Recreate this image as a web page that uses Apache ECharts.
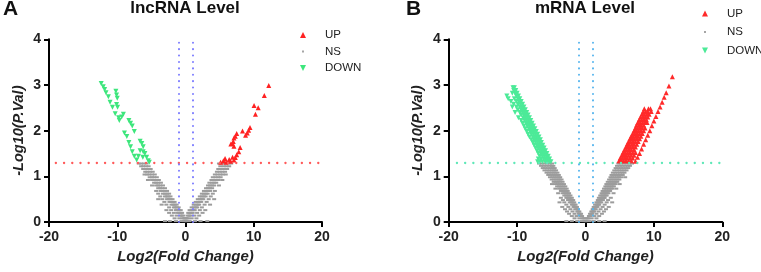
<!DOCTYPE html>
<html>
<head>
<meta charset="utf-8">
<script src="https://cdn.jsdelivr.net/npm/echarts@6/dist/echarts.min.js"></script>
<style>
  body { margin: 0; background: #fff; }
  #main { width: 761px; height: 272px; }
</style>
</head>
<body>
<div id="main"></div>
<script>
// cut-offs
var pCut = 1.3;     // -log10(0.05)
var fcCut = 1;
var hLineA = [-19, 19.7];
var hLineB = [-18.8, 20];

// panel A (lncRNA) : [log2FC, -log10 p]
var upA = [[12.2,2.99],[11.55,2.77],[10.05,2.55],[10.65,2.5],[10.25,2.36],[9.45,2.07],[9.25,2.01],[9.05,1.95],
  [8.8,1.9],[8.35,1.99],[7.5,1.94],[7.3,1.88],[7.1,1.84],[7.0,1.76],[6.85,1.72],[6.65,1.71],[7.1,1.66],[8.0,1.63],
  [7.8,1.54],[7.5,1.47],[7.3,1.41],[7.1,1.36],[6.4,1.37],[5.8,1.39],[5.55,1.34],[5.15,1.31],[5.95,1.31],[6.6,1.33],[6.9,1.42]];
var downA = [[-12.35,3.03],[-12.05,2.96],[-11.85,2.9],[-11.65,2.83],[-11.3,2.74],[-11.05,2.62],[-10.7,2.51],[-10.2,2.86],
  [-10.1,2.78],[-10.0,2.71],[-10.1,2.57],[-9.95,2.51],[-10.3,2.37],[-9.8,2.28],[-9.7,2.22],[-9.1,2.36],[-9.35,2.3],
  [-8.3,2.22],[-8.05,2.16],[-7.8,2.1],[-7.5,1.98],[-8.95,1.95],[-8.6,1.87],[-8.3,1.74],[-8.05,1.65],[-7.8,1.54],
  [-7.5,1.44],[-7.15,1.36],[-6.65,1.77],[-6.4,1.72],[-6.2,1.65],[-6.65,1.56],[-6.2,1.54],[-5.95,1.5],[-5.7,1.42],
  [-5.45,1.34],[-5.3,1.31],[-6.9,1.44],[-6.25,1.42]];
// NS rows: first number is -log10 p, the rest are the log2FC values at that height
var nsRowsA = [
  [1.28,-6.85,-6.5,-6.1,-5.7, 6.7,6.3,5.8,5.3,4.9],
  [1.22,-6.5,-6.2,-5.8,-5.4, 6.4,6.0,5.6,5.1],
  [1.16,-6.2,-5.9,-5.5,-5.1, 6.1,5.7,5.3,4.8],
  [1.10,-5.9,-5.6,-5.2,-4.8, 5.8,5.4,5.0,4.6],
  [1.04,-5.6,-5.3,-4.9,-4.5,-6.0, 5.45,5.1,4.7,4.3,5.9],
  [0.98,-5.25,-4.9,-4.6,-4.2, 5.15,4.8,4.4,4.0],
  [0.92,-4.9,-4.6,-4.3,-3.9,-5.5, 4.85,4.5,4.1,3.8,5.4],
  [0.86,-4.6,-4.3,-4.0,-3.6, 4.5,4.2,3.9,3.5],
  [0.80,-4.3,-4.0,-3.7,-3.3,-4.9, 4.2,3.9,3.6,3.3,4.9],
  [0.74,-4.0,-3.7,-3.4,-3.0, 3.9,3.6,3.3,3.0],
  [0.68,-3.65,-3.35,-3.05,-2.7,-4.3, 3.6,3.3,3.0,2.7,4.3],
  [0.62,-3.3,-3.0,-2.7,-2.4,-4.0, 3.25,3.0,2.7,2.4,4.0],
  [0.56,-3.0,-2.75,-2.5,-2.2,-3.7, 2.95,2.7,2.4,2.1,3.7],
  [0.50,-2.7,-2.45,-2.2,-1.9,-3.4,-4.0, 2.6,2.4,2.1,1.8,3.4,4.2],
  [0.44,-2.35,-2.1,-1.85,-1.6,-3.1, 2.3,2.1,1.8,1.5,3.1],
  [0.38,-2.05,-1.8,-1.55,-1.3,-2.8,-3.5, 2.0,1.8,1.5,1.2,2.8,3.6],
  [0.32,-1.7,-1.5,-1.25,-1.0,-2.4, 1.7,1.5,1.2,0.9,2.4],
  [0.26,-1.4,-1.2,-0.95,-0.7,-2.1,-2.8, 1.35,1.15,0.9,0.6,2.1,2.9],
  [0.20,-1.1,-0.9,-0.7,-0.5,-1.7,-2.4, 1.05,0.85,0.6,0.4,1.7,2.5],
  [0.14,-0.75,-0.55,-0.35,-1.3,-2.0, 0.75,0.55,0.3,1.3,2.0],
  [0.08,-0.45,-0.25,-0.1,-0.9,-1.6, 0.4,0.2,0.05,0.9,1.6],
  [0.02,-0.2,-0.05,-0.6,-1.4,-2.3,-3.0, 0.15,0.05,0.6,1.4,2.2,3.2]
];

// panel B (mRNA)
var upLineB = [[12.7,3.18],[12.2,2.98],[11.8,2.83],[11.5,2.73],[11.2,2.62],[10.9,2.52],[10.6,2.42],[10.3,2.31],
  [10.0,2.21],[9.7,2.11],[9.4,2.0],[9.1,1.9],[8.8,1.8],[8.5,1.7],[8.2,1.6],[7.9,1.5],[7.6,1.42],[7.3,1.33]];
var upRowsB = [
  [2.48,8.6,9.2,9.5],
  [2.42,8.45,8.8,9.1,9.6],
  [2.36,8.25,8.6,8.95,9.3],
  [2.30,8.05,8.4,8.75,9.1],
  [2.24,7.85,8.2,8.55,8.9],
  [2.18,7.65,8.0,8.35,8.7,9.0],
  [2.12,7.45,7.8,8.15,8.5],
  [2.06,7.3,7.6,7.95,8.3,8.7],
  [2.00,7.1,7.4,7.75,8.1,8.5],
  [1.94,6.9,7.2,7.55,7.9,8.3],
  [1.88,6.7,7.0,7.35,7.7,8.1],
  [1.82,6.5,6.8,7.15,7.5,7.9],
  [1.76,6.3,6.6,6.95,7.3,7.7],
  [1.70,6.1,6.4,6.75,7.1,7.5],
  [1.64,5.9,6.2,6.55,6.9,7.3],
  [1.58,5.7,6.0,6.35,6.7,7.1],
  [1.52,5.5,5.8,6.15,6.5,6.9,7.3],
  [1.46,5.3,5.6,5.95,6.3,6.7,7.1],
  [1.40,5.1,5.4,5.75,6.1,6.5,6.9],
  [1.34,4.9,5.2,5.55,5.9,6.3,6.7]
];
var downRowsB = [
  [2.94,-10.4,-10.6],
  [2.88,-10.2,-10.5],
  [2.82,-10.0,-10.3,-10.7],
  [2.76,-9.8,-10.1,-11.5],
  [2.70,-9.6,-9.9,-10.4,-11.3],
  [2.64,-9.4,-9.7,-10.1,-10.9],
  [2.58,-9.2,-9.5,-9.85,-10.5],
  [2.52,-9.0,-9.3,-9.6,-10.1,-10.7],
  [2.46,-8.8,-9.1,-9.4,-9.9],
  [2.40,-8.6,-8.9,-9.2,-9.6,-10.3],
  [2.34,-8.4,-8.7,-9.0,-9.4],
  [2.28,-8.2,-8.5,-8.8,-9.1,-9.8],
  [2.22,-8.0,-8.3,-8.6,-8.9,-9.4],
  [2.16,-7.8,-8.1,-8.4,-8.7,-9.2],
  [2.10,-7.6,-7.9,-8.2,-8.5,-9.0],
  [2.04,-7.4,-7.7,-8.0,-8.3,-8.8],
  [1.98,-7.2,-7.5,-7.8,-8.1,-8.6],
  [1.92,-7.0,-7.3,-7.6,-7.9,-8.4],
  [1.86,-6.8,-7.1,-7.4,-7.7,-8.2],
  [1.80,-6.6,-6.9,-7.2,-7.5,-7.9],
  [1.74,-6.45,-6.7,-7.0,-7.3,-7.7],
  [1.68,-6.25,-6.5,-6.8,-7.1,-7.5],
  [1.62,-6.05,-6.3,-6.6,-6.9,-7.3],
  [1.56,-5.85,-6.1,-6.4,-6.7,-7.1],
  [1.50,-5.65,-5.9,-6.2,-6.5,-6.9],
  [1.44,-5.45,-5.7,-6.0,-6.3,-6.7],
  [1.38,-5.25,-5.5,-5.8,-6.1,-6.5,-6.9],
  [1.32,-5.05,-5.3,-5.6,-5.9,-6.3,-6.7,-7.0]
];
var nsRowsB = [
  [1.28,-6.8,-6.4,-6.0,-5.6,-5.2,-4.9, 4.8,5.2,5.6,6.0,6.4,6.8],
  [1.23,-6.5,-6.1,-5.7,-5.3,-4.9,-4.7, 4.6,5.0,5.4,5.8,6.2,6.5],
  [1.18,-6.25,-5.9,-5.5,-5.1,-4.8,-4.5, 4.4,4.8,5.2,5.55,5.9,6.25],
  [1.13,-6.0,-5.6,-5.25,-4.9,-4.6,-4.3, 4.2,4.6,4.95,5.3,5.65,6.0],
  [1.08,-5.7,-5.35,-5.0,-4.7,-4.4,-4.1, 4.0,4.35,4.7,5.05,5.4,5.7],
  [1.03,-5.45,-5.1,-4.8,-4.5,-4.2,-3.9, 3.8,4.15,4.5,4.8,5.15,5.45],
  [0.98,-5.2,-4.85,-4.55,-4.25,-3.95,-3.7, 3.65,3.95,4.25,4.6,4.9,5.2,5.8],
  [0.93,-4.95,-4.6,-4.3,-4.0,-3.75,-3.5, 3.45,3.75,4.05,4.35,4.65,4.95],
  [0.88,-4.65,-4.35,-4.05,-3.75,-3.35, 3.25,3.55,3.85,4.15,4.4,4.65],
  [0.83,-4.4,-4.1,-3.8,-3.5,-3.15,-4.9, 3.05,3.35,3.65,3.9,4.15,4.4,5.0],
  [0.78,-4.15,-3.85,-3.55,-3.25,-2.95, 2.9,3.15,3.45,3.7,3.95,4.15],
  [0.73,-3.85,-3.6,-3.3,-3.0,-2.75,-4.4, 2.7,2.95,3.2,3.45,3.7,3.9,4.5],
  [0.68,-3.6,-3.35,-3.1,-2.85,-2.6, 2.5,2.75,3.0,3.2,3.45,3.6],
  [0.63,-3.35,-3.1,-2.85,-2.6,-2.4,-4.0, 2.35,2.6,2.8,3.0,3.2,3.35,4.1],
  [0.58,-3.1,-2.85,-2.6,-2.4,-2.2, 2.15,2.35,2.55,2.75,2.95,3.1],
  [0.53,-2.8,-2.6,-2.4,-2.2,-2.0,-3.6, 1.95,2.15,2.35,2.55,2.7,2.8,3.7],
  [0.48,-2.55,-2.35,-2.15,-1.95,-1.8,-3.3, 1.8,1.95,2.15,2.35,2.55,3.3],
  [0.43,-2.3,-2.1,-1.9,-1.65,-3.1,-3.8, 1.6,1.8,1.95,2.15,2.3,3.1,3.9],
  [0.38,-2.0,-1.8,-1.6,-1.45,-2.8, 1.4,1.6,1.75,1.9,2.0,2.8],
  [0.33,-1.75,-1.55,-1.4,-1.25,-2.5,-3.4, 1.2,1.4,1.55,1.75,2.5,3.4],
  [0.28,-1.5,-1.3,-1.1,-2.2,-3.0, 1.05,1.2,1.35,1.5,2.2,3.0],
  [0.23,-1.2,-1.05,-0.9,-1.9,-2.7, 0.85,1.0,1.15,1.25,1.9,2.7],
  [0.18,-0.95,-0.8,-0.65,-1.6,-2.4, 0.65,0.8,0.95,1.6,2.4],
  [0.13,-0.7,-0.5,-1.3,-2.0, 0.5,0.6,0.7,1.3,2.0],
  [0.08,-0.45,-0.3,-0.15,-0.9,-1.6, 0.3,0.4,0.15,0.9,1.6],
  [0.02,-0.15,-0.05,-0.6,-1.2,-2.0,-2.8, 0.1,0.05,0.6,1.2,2.0,2.8]
];

function fromRows(rows) {
  var out = [];
  rows.forEach(function (r) {
    for (var i = 1; i < r.length; i++) out.push([r[i], r[0]]);
  });
  return out;
}

var FONT = 'Arial, "Liberation Sans", sans-serif';
var ICON_UP = 'path://M5,0L10,10L0,10Z';
var ICON_DOWN = 'path://M0,0L10,0L5,10Z';
var ICON_NS = 'path://M0,0M10,10M3.5,3.5L6.5,3.5L6.5,6.5L3.5,6.5Z';

function xAxisFor(i) {
  return {
    type: 'value', gridIndex: i, min: -20, max: 20, interval: 10,
    name: 'Log2(Fold Change)', nameLocation: 'middle', nameGap: 27,
    nameTextStyle: { fontFamily: FONT, fontSize: 15, fontWeight: 'bold', fontStyle: 'italic', color: '#222' },
    splitLine: { show: false },
    axisLine: { onZero: false, lineStyle: { color: '#000', width: 2 } },
    axisTick: { length: 5, lineStyle: { color: '#000', width: 2 } },
    axisLabel: { margin: 8, fontFamily: FONT, fontSize: 14, fontWeight: 'bold', color: '#222' }
  };
}
function yAxisFor(i) {
  return {
    type: 'value', gridIndex: i, min: 0, max: 4, interval: 1,
    name: '-Log10(P.Val)', nameLocation: 'middle', nameGap: 23,
    nameTextStyle: { fontFamily: FONT, fontSize: 14.5, fontWeight: 'bold', fontStyle: 'italic', color: '#222' },
    splitLine: { show: false },
    axisLine: { onZero: false, lineStyle: { color: '#000', width: 2 } },
    axisTick: { length: 5, lineStyle: { color: '#000', width: 2 } },
    axisLabel: { margin: 8, fontFamily: FONT, fontSize: 14, fontWeight: 'bold', color: '#222' }
  };
}
function legendFor(left, top, gap, c) {
  return {
    orient: 'vertical', left: left, top: top, padding: 0,
    itemWidth: 34, itemHeight: 6, itemGap: gap,
    textStyle: { fontFamily: FONT, fontSize: 11.5, color: '#222' },
    selectedMode: false,
    data: [
      { name: 'UP', icon: ICON_UP, itemStyle: { color: c.up } },
      { name: 'NS', icon: ICON_NS, itemStyle: { color: c.ns } },
      { name: 'DOWN', icon: ICON_DOWN, itemStyle: { color: c.down } }
    ]
  };
}
function cutLines(i, hRange, hColor, vColor) {
  return {
    type: 'scatter', xAxisIndex: i, yAxisIndex: i, data: [], silent: true, z: 5,
    markLine: {
      silent: true, symbol: ['none', 'none'], label: { show: false }, animation: false,
      emphasis: { disabled: true },
      data: [
        [{ coord: [hRange[0], pCut], lineStyle: { color: hColor, type: [0.1, 8.1], cap: 'round', width: 2.3 } }, { coord: [hRange[1], pCut] }],
        [{ coord: [-fcCut, 0], lineStyle: { color: vColor, type: [0.1, 6.3], cap: 'round', width: 2 } }, { coord: [-fcCut, 4] }],
        [{ coord: [fcCut, 0], lineStyle: { color: vColor, type: [0.1, 6.3], cap: 'round', width: 2 } }, { coord: [fcCut, 4] }]
      ]
    }
  };
}
function pts(name, i, data, color, symbol, size, rot) {
  return {
    name: name, type: 'scatter', xAxisIndex: i, yAxisIndex: i, data: data,
    symbol: symbol, symbolSize: size, symbolRotate: rot || 0, clip: false,
    itemStyle: { color: color, opacity: 1 }, silent: true
  };
}

var colA = { up: '#ff2222', ns: '#9c9c9c', down: '#3de67c' };
var colB = { up: '#ff2a2a', ns: '#9c9c9c', down: '#4cea98' };

var chart = echarts.init(document.getElementById('main'), null, { renderer: 'canvas' });
chart.setOption({
  animation: false,
  backgroundColor: '#fff',
  title: [
    { text: 'A', left: 3, top: -1, padding: 0, textStyle: { fontFamily: FONT, fontSize: 21, fontWeight: 'bold', color: '#111' } },
    { text: 'lncRNA Level', left: 185, top: 0, padding: 0, textAlign: 'center', textStyle: { fontFamily: FONT, fontSize: 17, fontWeight: 'bold', color: '#111' } },
    { text: 'B', left: 406, top: -1, padding: 0, textStyle: { fontFamily: FONT, fontSize: 21, fontWeight: 'bold', color: '#111' } },
    { text: 'mRNA Level', left: 585, top: 0, padding: 0, textAlign: 'center', textStyle: { fontFamily: FONT, fontSize: 17, fontWeight: 'bold', color: '#111' } }
  ],
  legend: [legendFor(300, 29, 4.5, colA), legendFor(702, 7.5, 6.5, colB)],
  grid: [
    { left: 49, top: 39.3, width: 273, height: 182.7, outerBoundsMode: 'none' },
    { left: 448.7, top: 39.3, width: 273.6, height: 182.7, outerBoundsMode: 'none' }
  ],
  xAxis: [xAxisFor(0), xAxisFor(1)],
  yAxis: [yAxisFor(0), yAxisFor(1)],
  series: [
    pts('NS', 0, fromRows(nsRowsA), colA.ns, 'rect', [4, 2]),
    pts('UP', 0, upA, colA.up, 'triangle', 5),
    pts('DOWN', 0, downA, colA.down, 'triangle', 5, 180),
    cutLines(0, hLineA, '#ff5a5a', '#7b7bff'),
    pts('NS', 1, fromRows(nsRowsB), colB.ns, 'rect', [4, 2]),
    pts('UP', 1, fromRows(upRowsB).concat(upLineB), colB.up, 'triangle', 5),
    pts('DOWN', 1, fromRows(downRowsB), colB.down, 'triangle', 5, 180),
    cutLines(1, hLineB, '#5fe8b8', '#55b4ee')
  ]
});
</script>
</body>
</html>
